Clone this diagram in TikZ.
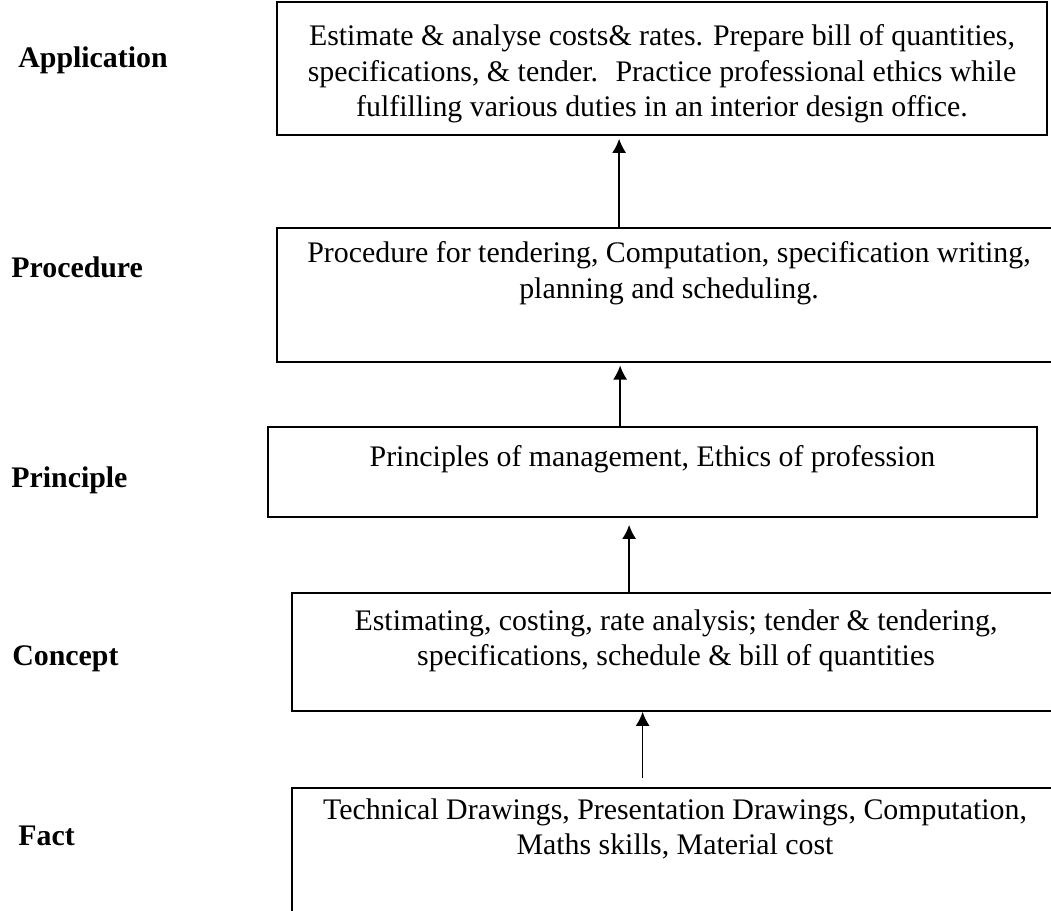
\documentclass[tikz,border=0pt]{standalone}
\usepackage{fontspec}
\setmainfont{Liberation Serif}
\usetikzlibrary{positioning,arrows.meta}

\tikzset{
  stagebox/.style={draw,line width=1pt,rectangle,inner sep=0pt},
  stagetext/.style={align=center,inner sep=0pt,anchor=north,font=\fontsize{17}{20}\selectfont},
  stagelabel/.style={anchor=base west,inner sep=0pt,font=\fontsize{17}{20}\selectfont\bfseries},
  flow/.style={line width=0.8pt,-{Latex[length=8pt,width=8pt]}}
}

\begin{document}
\begin{tikzpicture}[x=0.02cm,y=-0.02cm]
\useasboundingbox (0,0) rectangle (1051,910);
% boxes
\node[stagebox,minimum width=15.4cm,minimum height=2.66cm] (app) at (662,68.5) {};
\node[stagebox,minimum width=15.68cm,minimum height=2.68cm] (proc) at (669,295) {};
\node[stagebox,minimum width=15.38cm,minimum height=1.8cm] (princ) at (652.5,472) {};
\node[stagebox,minimum width=15.36cm,minimum height=2.36cm] (conc) at (676,652) {};
\node[stagebox,minimum width=15.32cm,minimum height=3cm] (fact) at (675,863) {};
% texts
\node[stagetext] (apptext) at (662,24.5) {Estimate \& analyse costs\& rates. Prepare bill of quantities,\\
  specifications, \& tender.~ Practice professional ethics while\\
  fulfilling various duties in an interior design office.};
\node[stagetext] (proctext) at (669,241.5) {Procedure for tendering, Computation, specification writing,\\
  planning and scheduling.};
\node[stagetext] (princtext) at (652.5,445.5) {Principles of management, Ethics of profession};
\node[stagetext] (conctext) at (676,609.5) {Estimating, costing, rate analysis; tender \& tendering,\\
  specifications, schedule \& bill of quantities};
\node[stagetext] (facttext) at (675,798) {Technical Drawings, Presentation Drawings, Computation,\\
  Maths skills, Material cost};
% labels
\node[stagelabel] (lapp) at (18,67) {Application};
\node[stagelabel] (lproc) at (11,277) {Procedure};
\node[stagelabel] (lprinc) at (11,487) {Principle};
\node[stagelabel] (lconc) at (12,665) {Concept};
\node[stagelabel] (lfact) at (18,845) {Fact};
% arrows
\coordinate (s1) at ([xshift=6.86cm]proc.north west);
\coordinate (s2) at ([xshift=7.06cm]princ.north west);
\coordinate (s3) at ([xshift=6.76cm]conc.north west);
\coordinate (s4) at ([xshift=7.03cm,yshift=0.18cm]fact.north west);
\draw[flow,shorten >=1.7pt] (s1) -- (s1 |- app.south);
\draw[flow,shorten >=1.5pt] (s2) -- (s2 |- proc.south);
\draw[flow,shorten >=4pt] (s3) -- (s3 |- princ.south);
\draw[flow] (s4) -- (s4 |- conc.south);
\end{tikzpicture}
\end{document}
